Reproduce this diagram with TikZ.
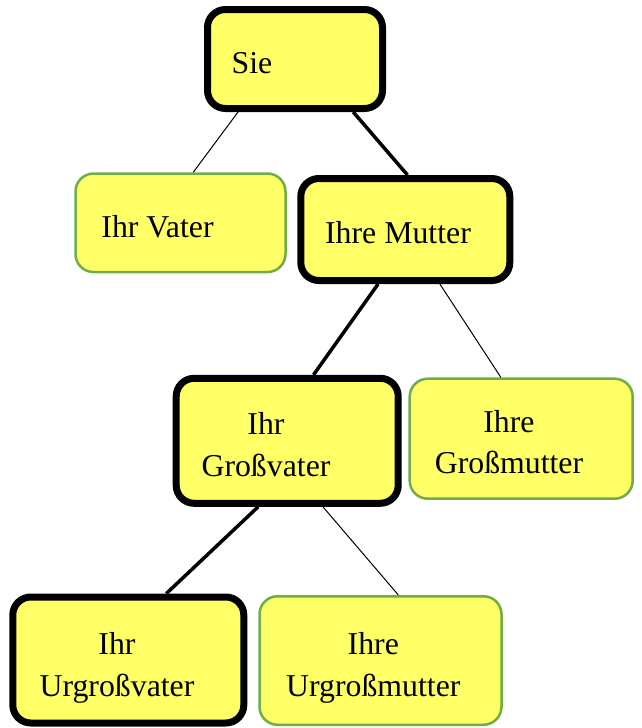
\documentclass[tikz,border=0pt]{standalone}
\usepackage{fontspec}
\setmainfont{Liberation Serif}
\usetikzlibrary{calc}
\definecolor{boxfill}{RGB}{255,255,102}
\definecolor{boxgreen}{RGB}{112,173,71}
\tikzset{
  thickbox/.style={draw=black, line width=7pt, fill=boxfill, rounded corners=18pt, inner sep=0pt},
  greenbox/.style={draw=boxgreen, line width=2.5pt, fill=boxfill, rounded corners=18pt, inner sep=0pt},
  lbl/.style={anchor=base, inner sep=0pt, font=\fontsize{31.8}{40}\selectfont},
  thinline/.style={line width=1pt},
  thickline/.style={line width=3.5pt}
}
\begin{document}
\begin{tikzpicture}[x=1pt,y=-1pt]
\useasboundingbox (0,0) rectangle (641,728);
% boxes
\node[thickbox, minimum width=175pt, minimum height=99pt] (sie) at (295,59) {};
\node[greenbox, minimum width=210pt, minimum height=98.5pt] (vater) at (180.5,222.8) {};
\node[thickbox, minimum width=209pt, minimum height=102pt] (mutter) at (405.3,229.5) {};
\node[thickbox, minimum width=222pt, minimum height=125pt] (gv) at (287.2,440.8) {};
\node[greenbox, minimum width=223pt, minimum height=120pt] (gm) at (521.2,438.7) {};
\node[thickbox, minimum width=231pt, minimum height=126pt] (ugv) at (128.3,660) {};
\node[greenbox, minimum width=242pt, minimum height=128.5pt] (ugm) at (380.5,660.5) {};
% texts
\node[lbl] (sieT) at (252,73.3) {Sie};
\node[lbl] (vaterT) at (157.5,237.3) {Ihr Vater};
\node[lbl] (mutterT) at (398,243.3) {Ihre Mutter};
\node[lbl] (gvT1) at (266,434) {Ihr};
\node[lbl] (gvT2) at (266,476.7) {Großvater};
\node[lbl] (gmT1) at (509,432.7) {Ihre};
\node[lbl] (gmT2) at (509,473.3) {Großmutter};
\node[lbl] (ugvT1) at (117,654) {Ihr};
\node[lbl] (ugvT2) at (117,696.7) {Urgroßvater};
\node[lbl] (ugmT1) at (373.3,654) {Ihre};
\node[lbl] (ugmT2) at (373.3,696.7) {Urgroßmutter};
% connectors
\draw[thinline] ($(sie.south west)!0.187!(sie.south east)$) -- ($(vater.north west)!0.56!(vater.north east)$);
\draw[thickline] ($(sie.south west)!0.82!(sie.south east)$) -- ($(mutter.north west)!0.51!(mutter.north east)$);
\draw[thickline] ($(mutter.south west)!0.374!(mutter.south east)$) -- ($(gv.north west)!0.615!(gv.north east)$);
\draw[thinline] ($(mutter.south west)!0.66!(mutter.south east)$) -- ($(gm.north west)!0.41!(gm.north east)$);
\draw[thickline] ($(gv.south west)!0.373!(gv.south east)$) -- ($(ugv.north west)!0.66!(ugv.north east)$);
\draw[thinline] ($(gv.south west)!0.656!(gv.south east)$) -- ($(ugm.north west)!0.573!(ugm.north east)$);
\end{tikzpicture}
\end{document}
